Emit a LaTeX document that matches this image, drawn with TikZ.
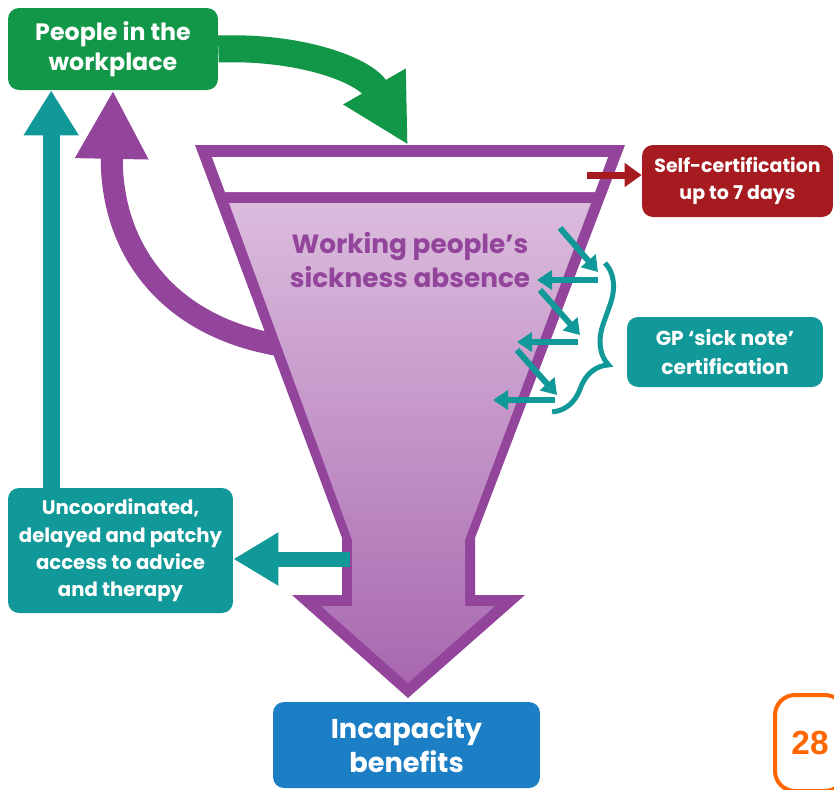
\documentclass[tikz,border=0pt]{standalone}
\usepackage{fontspec}
\setmainfont{Poppins}
\newfontfamily\pagefont{Liberation Sans}
\usetikzlibrary{calc,arrows.meta,decorations.pathreplacing}

\definecolor{wpgreen}{RGB}{18,150,72}
\definecolor{fpurple}{RGB}{147,68,155}
\definecolor{lilactop}{RGB}{219,188,221}
\definecolor{lilacbot}{RGB}{168,104,175}
\definecolor{gpteal}{RGB}{16,153,152}
\definecolor{scred}{RGB}{166,27,32}
\definecolor{icblue}{RGB}{28,126,196}
\definecolor{pgorange}{RGB}{255,102,0}

\tikzset{
  box/.style={rounded corners=0.22cm, text=white, align=center, inner sep=0pt,
    font=\bfseries\fontsize{12}{15}\selectfont},
  smallarr/.style={gpteal, line width=0.12cm, -{Triangle[length=0.3cm,width=0.38cm]}},
}

\begin{document}
\begin{tikzpicture}[x=0.02cm,y=-0.02cm]
\clip (0,0) rectangle (834,789);
\fill[white] (0,0) rectangle (834,789);

% boxes
\node[box, fill=wpgreen, minimum width=4.2cm, minimum height=1.64cm,
  font=\bfseries\fontsize{13.5}{17}\selectfont] (work) at (113,49) {People in the\\workplace};
\node[box, fill=scred, minimum width=3.82cm, minimum height=1.44cm,
  font=\bfseries\fontsize{10.8}{15.4}\selectfont] (selfcert) at (737.5,181) {Self-certification\\up to 7 days};
\node[box, fill=gpteal, minimum width=3.92cm, minimum height=1.4cm,
  font=\bfseries\fontsize{11.5}{16.5}\selectfont] (gp) at (725,352) {GP ‘sick note’\\certification};
\node[box, fill=gpteal, minimum width=4.5cm, minimum height=2.5cm,
  font=\bfseries\fontsize{11.2}{15.5}\selectfont] (uncoord) at (120.5,550.5) {Uncoordinated,\\delayed and patchy\\access to advice\\and therapy};
\node[box, fill=icblue, minimum width=5.34cm, minimum height=1.72cm,
  font=\bfseries\fontsize{15.5}{19.5}\selectfont] (incap) at (406.5,745) {Incapacity\\benefits};
\node[draw=pgorange, line width=0.08cm, rounded corners=0.4cm, minimum width=1.4cm, minimum height=1.92cm,
  text=pgorange, font=\pagefont\bfseries\fontsize{19}{19}\selectfont] (pagenum) at (810,743) {28};

% purple arrow back to work, under the funnel
\draw[fpurple, line width=0.44cm, -{Triangle[length=1.37cm,width=1.37cm]}]
  (300,348) .. controls (170,335) and (110,250) .. (work.south);

% funnel
\coordinate (ftop) at (408,145);
\fill[fpurple] (195,145) -- (625,145) -- (475,538) -- (475,595) -- (525,595) -- (408,698)
  -- (292,595) -- (342,595) -- (342,538) -- cycle;
\fill[white] (212,157) -- (608,157) -- (595,192) -- (225,192) -- cycle;
\shade[top color=lilactop, bottom color=lilacbot] (229,203) -- (591,203) -- (465,540) -- (465,606)
  -- (495,606) -- (408,683) -- (321,606) -- (352,606) -- (352,540) -- cycle;
\node[text=fpurple, align=center, font=\bfseries\fontsize{15}{19}\selectfont] (sick) at (410,260)
  {Working people’s\\sickness absence};

% green arrow into the funnel
\draw[wpgreen, line width=0.54cm, -{Triangle[length=1.35cm,width=1.34cm]}]
  (work.east) .. controls (300,46) and (365,70) .. (ftop);

% teal arrows
\coordinate (up) at ($(uncoord.north west)+(43.5,0)$);
\draw[gpteal, line width=0.34cm, -{Triangle[length=0.9cm,width=1.04cm]}] (up) -- (up |- work.south);
\coordinate (shaftL) at (350,559);
\draw[gpteal, line width=0.3cm, -{Triangle[length=0.9cm,width=1.0cm]}] (shaftL) -- (shaftL -| uncoord.east);

% red arrow
\coordinate (selfout) at (587,175);
\draw[scred, line width=0.14cm, -{Triangle[length=0.34cm,width=0.46cm]}] (selfout) -- (selfout -| selfcert.west);

% zigzag of sick notes
\foreach \xa/\ya/\xb/\yb in {560/228/598/272, 598/280/537/280, 540/290/580/335,
  578/342/517/342, 517/350/557/395, 555/400/493/400}
  \draw[smallarr] (\xa,\ya) -- (\xb,\yb);
\draw[gpteal, line width=0.1cm, decorate, decoration={brace, amplitude=0.75cm, aspect=0.6}] (605,263) -- (552,412);
\end{tikzpicture}
\end{document}
